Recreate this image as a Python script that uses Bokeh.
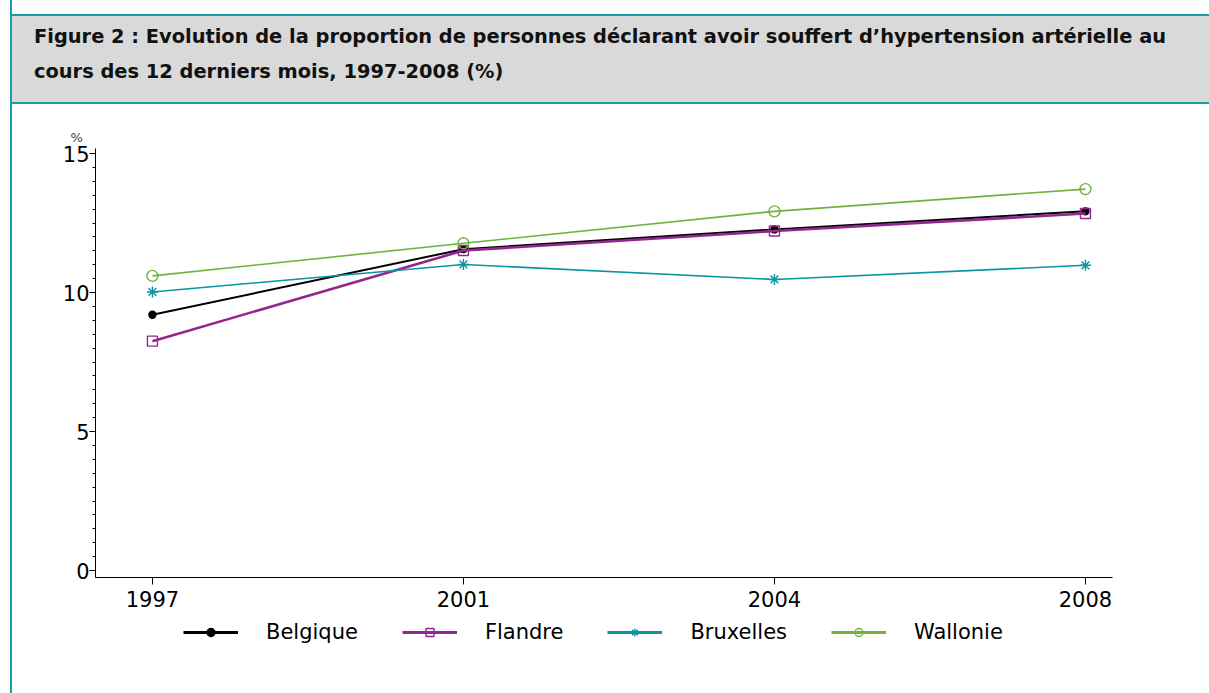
from bokeh.plotting import figure
from bokeh.layouts import column
from bokeh.models import Range1d, FixedTicker, Legend, LegendItem, Title, Div
from bokeh.embed import file_html
from bokeh.resources import INLINE

# ---- data ----
years = ["1997", "2001", "2004", "2008"]
belgique = [9.2, 11.56, 12.27, 12.92]
flandre = [8.25, 11.51, 12.21, 12.84]
bruxelles = [10.02, 11.01, 10.47, 10.98]
wallonie = [10.6, 11.77, 12.92, 13.72]
y_ticks = [0, 5, 10, 15]
title_lines = [
    "Figure 2 : Evolution de la proportion de personnes déclarant avoir souffert d\u2019hypertension artérielle au",
    "cours des 12 derniers mois, 1997-2008 (%)",
]

TEAL_BORDER = "#1a9ba6"
FONT = "DejaVu Sans"
W = 1197               # content width (page x 12 .. 1209)
ML, MR = 83, 97        # frame: page x 95 .. 1112
HEADER_H = 104

# ---- header (HTML) ----
header_html = (
    '<div style="margin-top:14px; height:86px; box-sizing:content-box; background:#d9d9d9; '
    'border-top:2px solid {c}; border-bottom:2px solid {c}; padding:0 0 0 22px; '
    'font-family:\'DejaVu Sans\'; font-weight:bold; font-size:19.4px; line-height:35px; '
    'color:#111; white-space:nowrap; overflow:hidden; width:{w}px;">'
    '<div style="padding-top:3px;">{l1}<br>{l2}</div></div>'
).format(c=TEAL_BORDER, w=W - 22, l1=title_lines[0], l2=title_lines[1])
header = Div(text=header_html, width=W, height=HEADER_H, margin=0)

# ---- chart ----
xs = list(range(len(years)))
p = figure(width=W, height=513, output_backend="svg", toolbar_location=None,
           x_range=Range1d(-0.183, 3.087), y_range=Range1d(-0.25, 15.18),
           min_border_left=ML, min_border_right=MR, min_border_top=44, min_border_bottom=40)
p.outline_line_color = None
p.xgrid.visible = False
p.ygrid.visible = False

series = [
    ("Belgique", belgique, "#000000", 2.0, "circle", "#000000", 7),
    ("Flandre", flandre, "#93278f", 2.6, "square", None, 10),
    ("Bruxelles", bruxelles, "#0a95a3", 1.6, "asterisk", None, 11),
    ("Wallonie", wallonie, "#6db33f", 1.6, "circle", None, 11),
]
for name, vals, col, lw, mk, fill, sz in series:
    p.line(xs, vals, line_color=col, line_width=lw)
    p.scatter(xs, vals, marker=mk, size=sz, line_color=col, line_width=1.4,
              fill_color=fill if fill else None)

xa = p.xaxis[0]
xa.ticker = FixedTicker(ticks=xs)
xa.major_label_overrides = {i: y for i, y in enumerate(years)}
xa.major_tick_out = 7
xa.major_tick_in = 0
xa.minor_tick_out = 0
xa.major_label_standoff = 6
xa.major_label_text_font = FONT
xa.major_label_text_font_size = "21px"
xa.major_label_text_color = "#000000"
xa.axis_line_color = "#000000"
xa.major_tick_line_color = "#000000"

ya = p.yaxis[0]
ya.ticker = FixedTicker(ticks=y_ticks, minor_ticks=[i * 0.5 for i in range(31)])
ya.major_tick_out = 6
ya.major_tick_in = 0
ya.minor_tick_out = 3
ya.minor_tick_in = 0
ya.major_label_standoff = 0
ya.major_label_text_font = FONT
ya.major_label_text_font_size = "21px"
ya.major_label_text_color = "#000000"
ya.axis_line_color = "#000000"
ya.major_tick_line_color = "#000000"
ya.minor_tick_line_color = "#000000"

p.add_layout(Title(text="%", align="left", offset=-25, text_font=FONT,
                   text_font_size="13px", text_font_style="normal", standoff=7), "above")

# ---- legend strip ----
LH = 76
lf = figure(width=W, height=LH, output_backend="svg", toolbar_location=None,
            x_range=Range1d(0, 1), y_range=Range1d(0, 1),
            x_axis_location=None, y_axis_location=None,
            min_border_left=ML, min_border_right=MR, min_border_top=0, min_border_bottom=0)
lf.outline_line_color = None
lf.xgrid.visible = False
lf.ygrid.visible = False
items = []
for name, vals, col, lw, mk, fill, sz in series:
    # proxies placed outside the visible range: they only supply the legend swatches
    ln = lf.line(x=[-10, -9], y=[-10, -9], line_color=col, line_width=3)
    sc = lf.scatter(x=[-10], y=[-10], marker=mk, size=sz, line_color=col, line_width=1.4,
                    fill_color=fill if fill else None)
    items.append(LegendItem(label=name, renderers=[ln, sc]))
legend = Legend(items=items, orientation="horizontal", location=(88, 49),
                label_text_font=FONT, label_text_font_size="21px", label_text_color="#000000",
                glyph_width=55, glyph_height=20, label_standoff=28, spacing=44,
                padding=0, margin=0, border_line_color=None, background_fill_alpha=0)
lf.add_layout(legend)

layout = column(header, p, lf, styles={"margin-left": "10px", "border-left": "2px solid " + TEAL_BORDER})

open("out.html", "w").write(file_html(layout, INLINE))
